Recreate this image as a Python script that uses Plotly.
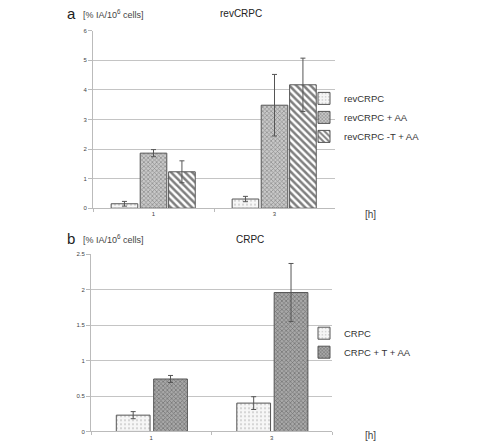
import plotly.graph_objects as go

W, H = 478, 446

# ---- data ----
hours = ["1", "3"]

top_names = ["revCRPC", "revCRPC + AA", "revCRPC -T + AA"]
top_vals = [[0.15, 0.31], [1.86, 3.48], [1.23, 4.17]]
top_errs = [[0.08, 0.09], [0.12, 1.04], [0.37, 0.90]]

bot_names = ["CRPC", "CRPC + T + AA"]
bot_vals = [[0.23, 0.40], [0.74, 1.96]]
bot_errs = [[0.05, 0.09], [0.05, 0.41]]

y_top_ticks = [0, 1, 2, 3, 4, 5, 6]
y_bot_ticks = [0, 0.5, 1, 1.5, 2, 2.5]
y_bot_labels = ["0", "0.5", "1", "1.5", "2", "2.5"]

# ---- styles ----
top_patterns = [
    dict(shape=".", fgcolor="#a0a0a0", bgcolor="#f6f6f6", size=4, solidity=0.2),
    dict(shape="x", fgcolor="#4a4a4a", bgcolor="#c8c8c8", size=3, solidity=0.4),
    dict(shape="\\", fgcolor="#000000", bgcolor="#ffffff", size=5, solidity=0.5),
]
top_width = [0.22, 0.22, 0.22]
top_offset = [-0.35, -0.11, 0.125]

bot_patterns = [
    dict(shape=".", fgcolor="#a0a0a0", bgcolor="#f6f6f6", size=4, solidity=0.2),
    dict(shape="x", fgcolor="#3a3a3a", bgcolor="#a8a8a8", size=3, solidity=0.4),
]
bot_width = [0.28, 0.28]
bot_offset = [-0.29, 0.02]

fig = go.Figure()

for i, name in enumerate(top_names):
    fig.add_trace(go.Bar(
        x=hours, y=top_vals[i], name=name,
        error_y=dict(type="data", array=top_errs[i], color="#555555", thickness=1, width=2.5),
        marker=dict(pattern=top_patterns[i], line=dict(color="#555555", width=1)),
        width=top_width[i], offset=top_offset[i],
        xaxis="x", yaxis="y", legend="legend",
    ))

for i, name in enumerate(bot_names):
    fig.add_trace(go.Bar(
        x=hours, y=bot_vals[i], name=name,
        error_y=dict(type="data", array=bot_errs[i], color="#555555", thickness=1, width=2.5),
        marker=dict(pattern=bot_patterns[i], line=dict(color="#555555", width=1)),
        width=bot_width[i], offset=bot_offset[i],
        xaxis="x2", yaxis="y2", legend="legend2",
    ))

tickfont = dict(family="Liberation Sans, Arial, sans-serif", size=6, color="#444444")

def px_x(p):
    return p / W

def px_y(p):
    return 1 - p / H

xcommon = dict(type="category", showgrid=False, showline=True, linecolor="#bbbbbb",
               ticks="outside", tickson="boundaries", ticklen=3, tickcolor="#bbbbbb",
               tickfont=tickfont, fixedrange=True)
ycommon = dict(showgrid=True, gridcolor="#c4c4c4", gridwidth=1, showline=True,
               linecolor="#bbbbbb", ticks="outside", ticklen=4, tickcolor="#bbbbbb",
               tickfont=tickfont, zeroline=False, fixedrange=True)

fig.update_layout(
    width=W, height=H,
    margin=dict(l=0, r=0, t=0, b=0),
    paper_bgcolor="white", plot_bgcolor="white",
    barmode="overlay",
    font=dict(family="Liberation Sans, Arial, sans-serif", color="#222222"),
    xaxis=dict(domain=[px_x(93), px_x(335)], anchor="y", **xcommon),
    yaxis=dict(domain=[px_y(208), px_y(28)], anchor="x", range=[0, 6],
               tickvals=y_top_ticks, **ycommon),
    xaxis2=dict(domain=[px_x(91), px_x(332)], anchor="y2", **xcommon),
    yaxis2=dict(domain=[px_y(434.3), px_y(254.7)], anchor="x2", range=[0, 2.5],
                tickvals=y_bot_ticks, ticktext=y_bot_labels, **ycommon),
    legend=dict(x=px_x(304), y=px_y(82), xanchor="left", yanchor="top",
                font=dict(size=9.5, color="#333333"), bgcolor="rgba(0,0,0,0)",
                tracegroupgap=0, itemwidth=30, traceorder="normal"),
    legend2=dict(x=px_x(304), y=px_y(320), xanchor="left", yanchor="top",
                 font=dict(size=9.5, color="#333333"), bgcolor="rgba(0,0,0,0)",
                 tracegroupgap=0, itemwidth=30, traceorder="normal"),
    showlegend=True,
)

annots = [
    dict(text="a", x=px_x(71), y=px_y(11), size=15, color="#222222"),
    dict(text="[% IA/10<sup>6</sup> cells]", x=px_x(113), y=px_y(11), size=9, color="#444444"),
    dict(text="revCRPC", x=px_x(241), y=px_y(11), size=10, color="#222222"),
    dict(text="[h]", x=px_x(370), y=px_y(214), size=10, color="#444444"),
    dict(text="b", x=px_x(71), y=px_y(239), size=15, color="#222222"),
    dict(text="[% IA/10<sup>6</sup> cells]", x=px_x(113), y=px_y(239), size=9, color="#444444"),
    dict(text="CRPC", x=px_x(250), y=px_y(240), size=10, color="#222222"),
    dict(text="[h]", x=px_x(370), y=px_y(438), size=10, color="#444444"),
]
for a in annots:
    fig.add_annotation(text=a["text"], x=a["x"], y=a["y"], xref="paper", yref="paper",
                       xanchor="center", yanchor="middle", showarrow=False,
                       font=dict(size=a["size"], color=a["color"]))

fig.write_html("out.html")
